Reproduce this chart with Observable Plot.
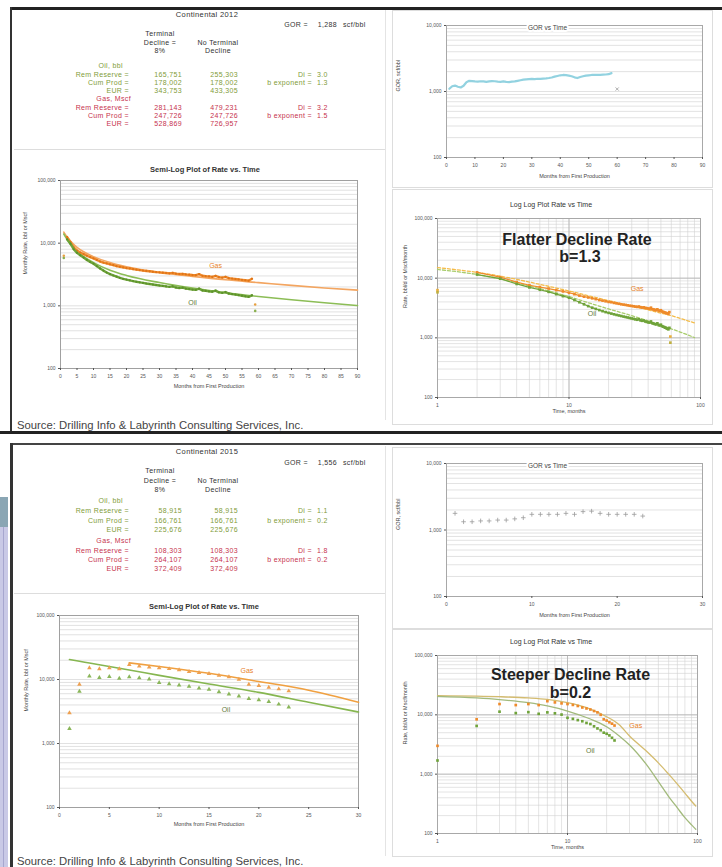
<!DOCTYPE html>
<html>
<head>
<meta charset="utf-8">
<script src="https://cdn.jsdelivr.net/npm/d3@7"></script>
<script src="https://cdn.jsdelivr.net/npm/@observablehq/plot@0.6"></script>
<style>
html,body{margin:0;padding:0;background:#fff;}
#page{position:relative;width:722px;height:867px;overflow:hidden;background:#fff;font-family:Arial,"Liberation Sans",Helvetica,sans-serif;}
#page svg{position:absolute;}
.t{position:absolute;white-space:nowrap;line-height:8px;}
</style>
</head>
<body>
<div id="page"></div>
<script>
// ---------------- DATA ----------------
const seriesNames = ["Gas", "Oil"];

// Continental 2012 table
const title2012 = "Continental 2012";
const gorText2012 = "1,288";
const rowLabels = ["Rem Reserve =", "Cum Prod =", "EUR ="];
const paramLabels = ["Di =", "b exponent ="];
const oilTerminal2012 = ["165,751", "178,002", "343,753"];
const oilNoTerminal2012 = ["255,303", "178,002", "433,305"];
const gasTerminal2012 = ["281,143", "247,726", "528,869"];
const gasNoTerminal2012 = ["479,231", "247,726", "726,957"];
const oilParams2012 = ["3.0", "1.3"];
const gasParams2012 = ["3.2", "1.5"];

// Continental 2015 table
const title2015 = "Continental 2015";
const gorText2015 = "1,556";
const oilTerminal2015 = ["58,915", "166,761", "225,676"];
const oilNoTerminal2015 = ["58,915", "166,761", "225,676"];
const gasTerminal2015 = ["108,303", "264,107", "372,409"];
const gasNoTerminal2015 = ["108,303", "264,107", "372,409"];
const oilParams2015 = ["1.1", "0.2"];
const gasParams2015 = ["1.8", "0.2"];

// 2012 monthly production (months 2..58)
const months2012 = [2,3,4,5,6,7,8,9,10,11,12,13,14,15,16,17,18,19,20,21,22,23,24,25,26,27,28,29,30,31,32,33,34,35,36,37,38,39,40,41,42,43,44,45,46,47,48,49,50,51,52,53,54,55,56,57,58];
const gas2012 = [12500,10400,8600,7600,7100,6700,6300,6000,5700,5400,5100,4900,4750,4600,4450,4300,4200,4100,4000,3950,3850,3780,3720,3650,3600,3560,3500,3450,3420,3380,3340,3300,3350,3260,3220,3240,3180,3140,3100,3080,3200,3020,2980,2950,2900,3000,2870,2820,2900,2760,2720,2680,2640,2600,2560,2520,2700];
const oil2012 = [11500,9800,8000,7000,6400,5900,5400,5000,4700,4300,3950,3650,3400,3200,3050,2920,2800,2700,2620,2550,2480,2420,2370,2320,2270,2230,2190,2150,2110,2080,2040,2010,2050,1960,1930,1950,1880,1850,1820,1800,1880,1760,1730,1700,1680,1750,1640,1610,1660,1570,1540,1510,1480,1450,1420,1390,1470];
const partialMonths2012 = [1, 59];
const partialGas2012 = [6300, 1050];
const partialOil2012 = [5800, 830];

// 2012 GOR (months 1..58)
const gorMonths2012 = [1,2,3,4,5,6,7,8,9,10,11,12,13,14,15,16,17,18,19,20,21,22,23,24,25,26,27,28,29,30,31,32,33,34,35,36,37,38,39,40,41,42,43,44,45,46,47,48,49,50,51,52,53,54,55,56,57,58];
const gor2012 = [1100,1200,1230,1180,1150,1220,1380,1450,1440,1420,1410,1430,1420,1400,1420,1440,1430,1410,1400,1420,1400,1390,1410,1420,1450,1480,1510,1530,1540,1550,1540,1560,1550,1570,1580,1600,1630,1680,1720,1760,1780,1770,1740,1700,1640,1600,1660,1700,1740,1760,1780,1790,1780,1790,1800,1810,1830,1900];
const partialGorMonths2012 = [60];
const partialGor2012 = [1090];

// 2012 decline-curve fits
const fitMonths2012 = [1,2,3,5,7,10,15,20,30,40,50,60,70,80,90];
const gasFit2012 = [15000,12500,10800,8600,7300,6100,4900,4200,3400,2950,2600,2350,2120,1930,1780];
const oilFit2012 = [14000,11500,9700,7400,6100,4900,3700,3050,2350,1920,1620,1410,1250,1120,1010];

// 2015 monthly production (months 1..23)
const months2015 = [1,2,3,4,5,6,7,8,9,10,11,12,13,14,15,16,17,18,19,20,21,22,23];
const gas2015 = [3000,8400,15200,14600,15200,14600,17000,16200,15600,15200,14700,14100,13300,12800,12300,11600,11000,10000,8400,8000,7500,7100,6600];
const oil2015 = [1700,6500,11300,10700,11100,10400,11000,10600,10100,8900,8550,8150,7800,7300,7000,6400,5900,5500,5000,4800,4500,4100,3700];
const gor2015 = [1780,1330,1330,1370,1370,1410,1410,1470,1530,1720,1720,1720,1720,1780,1720,1890,1920,1780,1720,1720,1720,1720,1620];

// 2015 decline-curve fits
const fitMonths2015 = [1,2,3,5,7,10,15,20,25,30,40,50,60,70,80,90,97];
const gasFit2015 = [21000,20600,20200,19300,18200,16000,12500,9300,6800,4400,2500,1550,1000,680,480,350,290];
const oilFit2015 = [20500,19300,18100,16000,14100,11600,8500,6300,4400,3100,1500,750,420,270,185,140,118];

// in-chart series labels (data coordinates)
const semiLabelMonths2012 = [47, 40];   const semiLabelRates2012 = [4400, 1140];
const logLabelMonths2012 = [33, 15];    const logLabelRates2012 = [6700, 2520];
const semiLabelMonths2015 = [18.8, 16.7]; const semiLabelRates2015 = [13500, 3370];
const logLabelMonths2015 = [33.5, 15];  const logLabelRates2015 = [6600, 2510];

const anno2012 = ["Flatter Decline Rate", "b=1.3"];
const anno2015 = ["Steeper Decline Rate", "b=0.2"];

// ticks
const semiYTicks = [100, 1000, 10000, 100000];
const gorYTicks = [100, 1000, 10000];
const logXTicks = [1, 10, 100];
const semiXTicks2012 = [0,5,10,15,20,25,30,35,40,45,50,55,60,65,70,75,80,85,90];
const semiXTicks2015 = [0,5,10,15,20,25,30];
const gorXTicks2012 = [0,10,20,30,40,50,60,70,80,90];
const gorXTicks2015 = [0,10,20,30];

const sourceText = "Source: Drilling Info & Labyrinth Consulting Services, Inc.";

// ---------------- HELPERS ----------------
const page = document.getElementById("page");
const ORANGE = "#ee8a2a", GREEN = "#6fa33a";
const OILTXT = "#7f9c3a", GASTXT = "#c6324e";
const TS = 7; // table font size

function rect(l, t, w, h, bg) {
  const d = document.createElement("div");
  Object.assign(d.style, {position:"absolute", left:l+"px", top:t+"px", width:w+"px", height:h+"px", background:bg});
  page.appendChild(d); return d;
}
function label(s, x, y, opt = {}) {
  const {align="left", size=TS, color="#333", weight="normal", spacing="0.35px"} = opt;
  const d = document.createElement("div");
  d.className = "t"; d.textContent = s;
  const W = 300;
  Object.assign(d.style, {fontSize:size+"px", color, fontWeight:weight, letterSpacing:spacing, top:(y-4)+"px"});
  if (align === "left") d.style.left = x + "px";
  else if (align === "right") { d.style.left = (x-W)+"px"; d.style.width = W+"px"; d.style.textAlign = "right"; }
  else { d.style.left = (x-W/2)+"px"; d.style.width = W+"px"; d.style.textAlign = "center"; }
  page.appendChild(d); return d;
}
function place(svg, l, t) { svg.style.left = l+"px"; svg.style.top = t+"px"; page.appendChild(svg); }
function logGrid(lo, hi) { const out = []; for (let d = lo; d < hi; d *= 10) for (let k = 1; k < 10; k++) out.push(d*k); out.push(hi); return out; }
const rows = (xs, ys) => xs.map((m, i) => ({month: m, rate: ys[i]}));
const baseStyle = {fontFamily:"Arial, 'Liberation Sans', sans-serif", fontSize:"5.5px", color:"#555", background:"transparent", overflow:"visible"};
function axisTitles(xl, yl, xdy, ydx) {
  return [
    Plot.text([xl], {text: d => d, frameAnchor:"bottom", dy:xdy, fontSize:5.5, fill:"#444"}),
    Plot.text([yl], {text: d => d, frameAnchor:"left", dx:ydx, rotate:-90, fontSize:5.5, fill:"#444"})
  ];
}
function seriesText(months, rates) {
  const r = rows(months, rates);
  return [
    Plot.text([r[0]], {x:"month", y:"rate", text: () => seriesNames[0], fill:"#e8822a", fontSize:7}),
    Plot.text([r[1]], {x:"month", y:"rate", text: () => seriesNames[1], fill:"#5f7a3c", fontSize:7})
  ];
}

// ---------------- TABLES ----------------
function drawTable(t) {
  label(t.title, 207, t.y.title, {align:"center", size:7.5, color:"#333"});
  label("GOR =", 308, t.y.gor, {align:"right", color:"#333"});
  label(t.gor, 337, t.y.gor, {align:"right", color:"#333"});
  label("scf/bbl", 343, t.y.gor, {color:"#333"});
  label("Terminal", 160, t.y.h1, {align:"center", color:"#333"});
  label("Decline =", 160, t.y.h2, {align:"center", color:"#333"});
  label("8%", 160, t.y.h3, {align:"center", color:"#333"});
  label("No Terminal", 218, t.y.h2, {align:"center", color:"#333"});
  label("Decline", 218, t.y.h3, {align:"center", color:"#333"});
  label("Oil, bbl", 123, t.y.oil, {align:"right", color:OILTXT});
  label("Gas, Mscf", 131, t.y.gas, {align:"right", color:GASTXT});
  rowLabels.forEach((rl, i) => {
    label(rl, 129, t.y.oilRows[i], {align:"right", color:OILTXT});
    label(t.oilT[i], 182, t.y.oilRows[i], {align:"right", color:OILTXT});
    label(t.oilN[i], 238, t.y.oilRows[i], {align:"right", color:OILTXT});
    label(rl, 129, t.y.gasRows[i], {align:"right", color:GASTXT});
    label(t.gasT[i], 182, t.y.gasRows[i], {align:"right", color:GASTXT});
    label(t.gasN[i], 238, t.y.gasRows[i], {align:"right", color:GASTXT});
  });
  paramLabels.forEach((pl, i) => {
    label(pl, 312, t.y.oilRows[i], {align:"right", color:OILTXT});
    label(t.oilP[i], 317, t.y.oilRows[i], {color:OILTXT});
    label(pl, 312, t.y.gasRows[i], {align:"right", color:GASTXT});
    label(t.gasP[i], 317, t.y.gasRows[i], {color:GASTXT});
  });
}

// ---------------- FRAMES / DECOR ----------------
rect(392, 10, 319, 176, "#fff").style.border = "1px solid #ddd";
rect(392, 189, 319, 234, "#fff").style.border = "1px solid #ddd";
rect(392, 447, 319, 180, "#fff").style.border = "1px solid #ddd";
rect(392, 629, 319, 226, "#fff").style.border = "1px solid #ddd";
rect(14, 149, 372, 1, "#ddd");
rect(14, 593, 372, 1, "#ddd");
rect(385, 10, 1, 410, "#e4e4e4");
rect(385, 446, 1, 410, "#e4e4e4");

rect(10, 7, 712, 2.5, "#222");
rect(10, 7, 2, 426, "#333");
rect(0, 431, 722, 2.5, "#222");
rect(10, 443, 712, 2, "#444");
rect(10, 443, 2.5, 424, "#333");
rect(0, 497, 8, 370, "#c9c9e6");
rect(3, 497, 1, 370, "#a7a7cf");
rect(0, 497, 8, 30, "#8aa6b4");

drawTable({title:title2012, gor:gorText2012, oilT:oilTerminal2012, oilN:oilNoTerminal2012, gasT:gasTerminal2012, gasN:gasNoTerminal2012, oilP:oilParams2012, gasP:gasParams2012,
  y:{title:15, gor:25, h1:34, h2:42.5, h3:51, oil:66, oilRows:[74.5,82.5,90.5], gas:99, gasRows:[107.5,115.5,123.5]}});
drawTable({title:title2015, gor:gorText2015, oilT:oilTerminal2015, oilN:oilNoTerminal2015, gasT:gasTerminal2015, gasN:gasNoTerminal2015, oilP:oilParams2015, gasP:gasParams2015,
  y:{title:452, gor:463, h1:471, h2:480.5, h3:489.5, oil:501, oilRows:[511,520.5,530], gas:541, gasRows:[550.5,559.5,568.5]}});

// ---------------- CHARTS ----------------
function gorChart({months, values, partialM, partialV, xDomain, xTicks, line, mt, mb}) {
  const r = rows(months, values);
  const marks = [
    Plot.gridY(logGrid(100, 10000), {stroke:"#cfcfcf", strokeOpacity:1, strokeWidth:0.6}),
    Plot.frame({stroke:"#a8a8a8"}),
  ];
  if (line) {
    marks.push(Plot.line(r, {x:"month", y:"rate", stroke:"#92d2e0", strokeWidth:2.2}));
    marks.push(Plot.dot(rows(partialM, partialV), {x:"month", y:"rate", symbol:"times", r:1.6, stroke:"#999", strokeWidth:0.8}));
  } else {
    marks.push(Plot.dot(r, {x:"month", y:"rate", symbol:"plus", r:1.6, stroke:"#9a9a9a", strokeWidth:0.8}));
  }
  marks.push(
    Plot.text(["GOR vs Time"], {text: d => d, frameAnchor:"top", dx:-27, fontSize:6.5, fill:"#444", stroke:"#fff", strokeWidth:4}),
    Plot.axisY(gorYTicks, {tickFormat:d3.format(","), tickSize:2, tickPadding:3, label:null, fontSize:5}),
    Plot.axisX(xTicks, {tickSize:2, tickPadding:4, label:null, fontSize:5}),
    ...axisTitles("Months from First Production", "GOR, scf/bbl", 20, -48)
  );
  return Plot.plot({
    width:322, height:180, marginLeft:56, marginRight:10, marginTop:mt, marginBottom:mb,
    style: baseStyle,
    x:{domain:xDomain, label:null},
    y:{type:"log", domain:[100, 10000], label:null},
    marks
  });
}

place(gorChart({months:gorMonths2012, values:gor2012, partialM:partialGorMonths2012, partialV:partialGor2012,
  xDomain:[0,90], xTicks:gorXTicks2012, line:true, mt:17, mb:31}), 390, 8);
place(gorChart({months:months2015, values:gor2015, xDomain:[0,30], xTicks:gorXTicks2015, line:false, mt:17, mb:30}), 390, 446);

// Semi-log 2012
{
  const g = rows(months2012, gas2012), o = rows(months2012, oil2012);
  const gf = rows(fitMonths2012, gasFit2012), of = rows(fitMonths2012, oilFit2012);
  const chart = Plot.plot({
    width:371, height:245, marginLeft:48, marginRight:26, marginTop:25, marginBottom:32,
    style: baseStyle,
    x:{domain:[0,90], label:null},
    y:{type:"log", domain:[100,100000], label:null},
    marks:[
      Plot.gridY(logGrid(100,100000), {stroke:"#cdcdcd", strokeOpacity:1, strokeWidth:0.6}),
      Plot.frame({stroke:"#a0a0a0"}),
      Plot.line(gf, {x:"month", y:"rate", stroke:"#f3a560", strokeWidth:1.6, curve:"monotone-x"}),
      Plot.line(of, {x:"month", y:"rate", stroke:"#8cbd56", strokeWidth:1.6, curve:"monotone-x"}),
      Plot.line(g, {x:"month", y:"rate", stroke:ORANGE, strokeWidth:2.4}),
      Plot.dot(g, {x:"month", y:"rate", r:1.1, fill:"#e07418"}),
      Plot.line(o, {x:"month", y:"rate", stroke:GREEN, strokeWidth:2.4}),
      Plot.dot(o, {x:"month", y:"rate", r:1.1, fill:"#5c922a"}),
      Plot.dot(rows(partialMonths2012, partialGas2012), {x:"month", y:"rate", r:1.3, fill:"#e8a040"}),
      Plot.dot(rows(partialMonths2012, partialOil2012), {x:"month", y:"rate", r:1.3, fill:"#8ab050"}),
      ...seriesText(semiLabelMonths2012, semiLabelRates2012),
      Plot.axisY(semiYTicks, {tickFormat:d3.format(","), tickSize:2, tickPadding:3, label:null, fontSize:5}),
      Plot.axisX(semiXTicks2012, {tickSize:2, tickPadding:4, label:null, fontSize:5}),
      ...axisTitles("Months from First Production", "Monthly Rate, bbl or Mscf", 19, -35)
    ]
  });
  place(chart, 12, 155);
  label("Semi-Log Plot of Rate vs. Time", 205, 170, {align:"center", size:7.5, weight:"bold", color:"#333", spacing:"0px"});
}

// Semi-log 2015
{
  const g = rows(months2015, gas2015), o = rows(months2015, oil2015);
  const gf = rows(fitMonths2015, gasFit2015).filter(d => d.month >= 7 && d.month <= 30);
  const of = rows(fitMonths2015, oilFit2015).filter(d => d.month <= 30);
  const chart = Plot.plot({
    width:371, height:245, marginLeft:47, marginRight:25, marginTop:18, marginBottom:35,
    style: baseStyle,
    x:{domain:[0,30], label:null},
    y:{type:"log", domain:[100,100000], label:null},
    marks:[
      Plot.gridY(logGrid(100,100000), {stroke:"#cdcdcd", strokeOpacity:1, strokeWidth:0.6}),
      Plot.frame({stroke:"#a0a0a0"}),
      Plot.line(gf, {x:"month", y:"rate", stroke:"#f0a040", strokeWidth:1.6, curve:"monotone-x"}),
      Plot.line(of, {x:"month", y:"rate", stroke:"#86b650", strokeWidth:1.6, curve:"monotone-x"}),
      Plot.dot(g, {x:"month", y:"rate", symbol:"triangle", r:1.7, fill:"#eea050"}),
      Plot.dot(o, {x:"month", y:"rate", symbol:"triangle", r:1.7, fill:"#8ab65a"}),
      ...seriesText(semiLabelMonths2015, semiLabelRates2015),
      Plot.axisY(semiYTicks, {tickFormat:d3.format(","), tickSize:2, tickPadding:3, label:null, fontSize:5}),
      Plot.axisX(semiXTicks2015, {tickSize:2, tickPadding:4, label:null, fontSize:5}),
      ...axisTitles("Months from First Production", "Monthly Rate, bbl or Mscf", 18, -33)
    ]
  });
  place(chart, 12, 597);
  label("Semi-Log Plot of Rate vs. Time", 204, 607, {align:"center", size:7.5, weight:"bold", color:"#333", spacing:"0px"});
}

// Log-log charts
function logChart({g, o, gf, of, fitDash, gasFitColor, oilFitColor, labelsM, labelsR, anno, annoDx, annoDy, partial, connect, height, mt, mb, mr}) {
  const marks = [
    Plot.gridX(logGrid(1,100), {stroke:"#d2d2d2", strokeOpacity:1, strokeWidth:0.6}),
    Plot.gridY(logGrid(100,100000), {stroke:"#d2d2d2", strokeOpacity:1, strokeWidth:0.6}),
    Plot.gridX(logXTicks, {stroke:"#b4b4b4", strokeOpacity:1, strokeWidth:0.8}),
    Plot.gridY(semiYTicks, {stroke:"#b4b4b4", strokeOpacity:1, strokeWidth:0.8}),
    Plot.frame({stroke:"#a8a8a8"}),
    Plot.line(gf, {x:"month", y:"rate", stroke:gasFitColor, strokeWidth:1.3, strokeDasharray:fitDash, curve:"monotone-x"}),
    Plot.line(of, {x:"month", y:"rate", stroke:oilFitColor, strokeWidth:1.3, strokeDasharray:fitDash, curve:"monotone-x"}),
  ];
  if (connect) {
    marks.push(Plot.line(g, {x:"month", y:"rate", stroke:ORANGE, strokeWidth:1.2}));
    marks.push(Plot.line(o, {x:"month", y:"rate", stroke:GREEN, strokeWidth:1.2}));
  }
  marks.push(
    Plot.dot(g, {x:"month", y:"rate", symbol:"square", r:1.5, fill:ORANGE}),
    Plot.dot(o, {x:"month", y:"rate", symbol:"square", r:1.5, fill:GREEN})
  );
  if (partial) {
    marks.push(Plot.dot(partial.gas, {x:"month", y:"rate", symbol:"square", r:1.5, fill:"#e8b040"}));
    marks.push(Plot.dot(partial.oil, {x:"month", y:"rate", symbol:"square", r:1.5, fill:"#c0b040"}));
  }
  marks.push(
    ...seriesText(labelsM, labelsR),
    Plot.text([anno[0]], {text: d => d, frameAnchor:"top", dx:annoDx[0], dy:annoDy[0], fontSize:16, fontWeight:"bold", fill:"#222"}),
    Plot.text([anno[1]], {text: d => d, frameAnchor:"top", dx:annoDx[1], dy:annoDy[1], fontSize:16, fontWeight:"bold", fill:"#222"}),
    Plot.axisY(semiYTicks, {tickFormat:d3.format(","), tickSize:2, tickPadding:3, label:null, fontSize:5}),
    Plot.axisX(logXTicks, {tickFormat:d3.format(","), tickSize:2, tickPadding:4, label:null, fontSize:5}),
    ...axisTitles("Time, months", "Rate, bbl/d or Mscf/month", 15, -32)
  );
  return Plot.plot({
    width:322, height, marginLeft:47, marginRight:mr, marginTop:mt, marginBottom:mb,
    style: baseStyle,
    x:{type:"log", domain:[1,100], label:null},
    y:{type:"log", domain:[100,100000], label:null},
    marks
  });
}

place(logChart({
  g: rows(months2012, gas2012), o: rows(months2012, oil2012),
  gf: rows(fitMonths2012, gasFit2012), of: rows(fitMonths2012, oilFit2012),
  fitDash:"3,2", gasFitColor:"#f4bc4a", oilFitColor:"#a8cc6c",
  labelsM:logLabelMonths2012, labelsR:logLabelRates2012,
  anno:anno2012, annoDx:[8, 11], annoDy:[15, 32],
  partial:{gas: rows(partialMonths2012, partialGas2012), oil: rows(partialMonths2012, partialOil2012)},
  connect:true, height:228, mt:28, mb:21, mr:12
}), 390, 190);
label("Log Log Plot Rate vs Time", 551, 205, {align:"center", size:7, color:"#333", spacing:"0px"});

place(logChart({
  g: rows(months2015, gas2015), o: rows(months2015, oil2015),
  gf: rows(fitMonths2015, gasFit2015), of: rows(fitMonths2015, oilFit2015),
  fitDash:null, gasFitColor:"#d4bc70", oilFitColor:"#a2ba7c",
  labelsM:logLabelMonths2015, labelsR:logLabelRates2015,
  anno:anno2015, annoDx:[3, 3], annoDy:[13, 31],
  partial:null, connect:false,
  height:225, mt:25, mb:22, mr:15
}), 390, 630);
label("Log Log Plot Rate vs Time", 551, 642, {align:"center", size:7, color:"#333", spacing:"0px"});

// Source lines
label(sourceText, 17, 425, {size:11.3, color:"#444", spacing:"0px"});
label(sourceText, 17, 861, {size:11.3, color:"#444", spacing:"0px"});
</script>
</body>
</html>
